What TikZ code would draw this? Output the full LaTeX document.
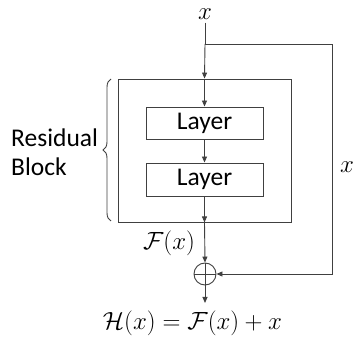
\documentclass[tikz,border=0pt]{standalone}
\usepackage{fontspec}
\setmainfont{Carlito}
\usetikzlibrary{arrows.meta,calc,positioning,decorations.pathreplacing}
\definecolor{rbink}{HTML}{404040}
\tikzset{
  rb text/.style={text=black},
  rb box/.style={draw=rbink, line width=0.9pt, fill=white, inner sep=0pt,
    font=\fontsize{25.5}{29}\selectfont},
  rb arrow/.style={-{Triangle[length=6pt,width=5pt]}, line width=0.9pt, draw=rbink},
  rb line/.style={line width=0.9pt, draw=rbink},
  rb math/.style={font=\fontsize{26}{30}\selectfont, inner sep=0pt},
  rb label/.style={font=\fontsize{25.5}{29}\selectfont, align=left, inner sep=0pt}
}

\begin{document}
\begin{tikzpicture}[x=1pt, y=1pt, rb text]
  \useasboundingbox (0,0) rectangle (354,343);
  % input and split point
  \node[rb math] (in) at (205,329) {$x$};
  \coordinate (split) at (205,299);
  % residual block
  \node[rb box, minimum width=173pt, minimum height=143pt] (block) at (204.5,192.5) {};
  \node[rb box, minimum width=117pt, minimum height=32pt] (lay1) at (204.5,220) {Layer};
  \node[rb box, minimum width=117pt, minimum height=33pt] (lay2) at (204.5,163.5) {Layer};
  \node[rb box, circle, minimum size=22pt,
    path picture={\draw[rb line] (path picture bounding box.north) -- (path picture bounding box.south)
      (path picture bounding box.west) -- (path picture bounding box.east);}] (sum) at (205,69) {};
  \coordinate (out) at (205,40);
  % labels
  \node[rb math] (fx) at (169,100) {$\mathcal{F}(x)$};
  \node[rb math] (hx) at (192.5,20) {$\mathcal{H}(x) = \mathcal{F}(x) + x$};
  \node[rb math, anchor=west] (skipx) at (340,176) {$x$};
  \node[rb label, anchor=west] (res) at (11,190.5) {Residual\\Block};
  \draw[rb line, decorate, decoration={brace, amplitude=8pt}] (111,122) -- (111,264);
  % connectors
  \draw[rb line] ($(in.south)+(0,-3)$) -- (split);
  \draw[rb arrow] (split) -- (block.north);
  \draw[rb arrow] (block.north) -- (lay1.north);
  \draw[rb arrow] (lay1.south) -- (lay2.north);
  \draw[rb arrow] (lay2.south) -- (block.south);
  \draw[rb arrow] (block.south) -- (sum.north);
  \draw[rb arrow] (split) -| (332,69) -- (sum.east);
  \draw[rb arrow] (sum.south) -- (out);
\end{tikzpicture}
\end{document}
